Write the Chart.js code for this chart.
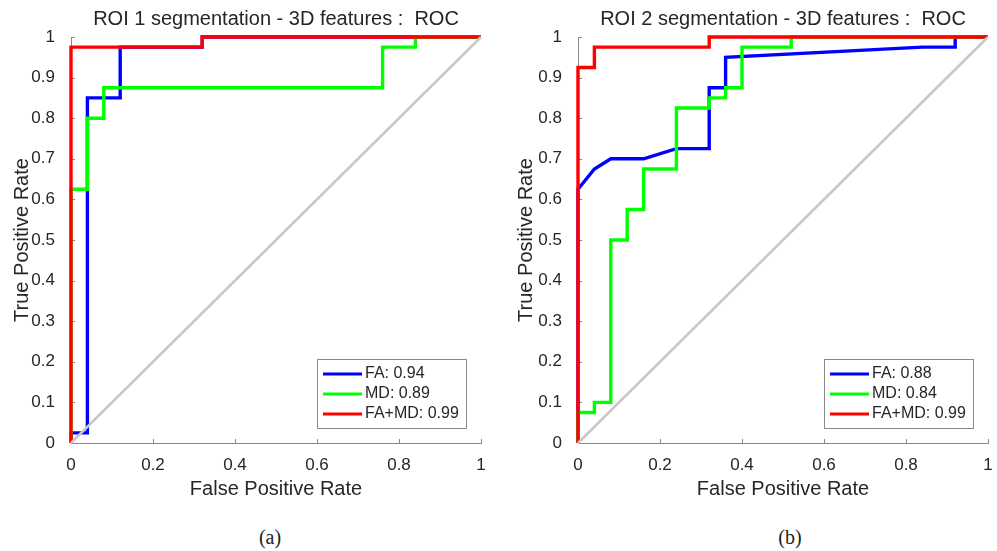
<!DOCTYPE html>
<html>
<head>
<meta charset="utf-8">
<script src="https://cdn.jsdelivr.net/npm/chart.js@4.4.1/dist/chart.umd.min.js"></script>
<style>
  body { margin: 0; background: #fff; }
  #page { position: relative; width: 997px; height: 551px; background: #fff; overflow: hidden; }
  canvas { position: absolute; top: 0; }
  #roc1 { left: 0; }
  #roc2 { left: 497px; }
  .cap { position: absolute; top: 526px; font-family: 'Liberation Serif', 'Times New Roman', serif; font-size: 20px; color: #222; transform: translateX(-50%); }
</style>
</head>
<body>
<div id="page">
  <canvas id="roc1" width="497" height="503"></canvas>
  <canvas id="roc2" width="500" height="503"></canvas>
  <div class="cap" style="left:270px">(a)</div>
  <div class="cap" style="left:790px">(b)</div>
</div>
<script>
const seriesNames = ['FA', 'MD', 'FA+MD'];
const seriesColors = ['#0000ff', '#00ff00', '#ff0000'];
const xTickLabels = ['0', '0.2', '0.4', '0.6', '0.8', '1'];
const yTickLabels = ['0', '0.1', '0.2', '0.3', '0.4', '0.5', '0.6', '0.7', '0.8', '0.9', '1'];
const chanceFpr = [0, 1];
const chanceTpr = [0, 1];

// ROI 1
const roi1Title = 'ROI 1 segmentation - 3D features :  ROC';
const roi1Auc = [0.94, 0.89, 0.99];
const roi1FaFpr = [0, 0, 0.04, 0.04, 0.12, 0.12, 0.32, 0.32, 1];
const roi1FaTpr = [0, 0.025, 0.025, 0.85, 0.85, 0.975, 0.975, 1, 1];
const roi1MdFpr = [0, 0, 0.04, 0.04, 0.08, 0.08, 0.76, 0.76, 0.84, 0.84, 1];
const roi1MdTpr = [0, 0.625, 0.625, 0.8, 0.8, 0.875, 0.875, 0.975, 0.975, 1, 1];
const roi1BothFpr = [0, 0, 0.32, 0.32, 1];
const roi1BothTpr = [0, 0.975, 0.975, 1, 1];

// ROI 2
const roi2Title = 'ROI 2 segmentation - 3D features :  ROC';
const roi2Auc = [0.88, 0.84, 0.99];
const roi2FaFpr = [0, 0, 0.04, 0.08, 0.16, 0.24, 0.32, 0.32, 0.36, 0.36, 0.84, 0.92, 0.92, 1];
const roi2FaTpr = [0, 0.625, 0.675, 0.7, 0.7, 0.725, 0.725, 0.875, 0.875, 0.95, 0.975, 0.975, 1, 1];
const roi2MdFpr = [0, 0, 0.04, 0.04, 0.08, 0.08, 0.12, 0.12, 0.16, 0.16, 0.24, 0.24, 0.32, 0.32, 0.36, 0.36, 0.40, 0.40, 0.52, 0.52, 1];
const roi2MdTpr = [0, 0.075, 0.075, 0.1, 0.1, 0.5, 0.5, 0.575, 0.575, 0.675, 0.675, 0.825, 0.825, 0.85, 0.85, 0.875, 0.875, 0.975, 0.975, 1, 1];
const roi2BothFpr = [0, 0, 0.04, 0.04, 0.32, 0.32, 1];
const roi2BothTpr = [0, 0.925, 0.925, 0.975, 0.975, 1, 1];

const axisColor = '#8a8a8a';
const textColor = '#262626';
Chart.defaults.font.family = '"Liberation Sans", Arial, Helvetica, sans-serif';

const toPoints = (xs, ys) => xs.map((x, i) => ({ x, y: ys[i] }));

// MATLAB style ticks pointing into the plot
const innerTicks = {
  id: 'innerTicks',
  beforeDatasetsDraw(chart) {
    const { ctx, chartArea: a, scales: { x, y } } = chart;
    ctx.save();
    ctx.strokeStyle = axisColor;
    ctx.lineWidth = 1;
    ctx.beginPath();
    x.ticks.forEach((t) => {
      const px = Math.round(x.getPixelForValue(t.value)) + 0.5;
      ctx.moveTo(px, a.bottom);
      ctx.lineTo(px, a.bottom - 4);
    });
    y.ticks.forEach((t) => {
      const py = Math.round(y.getPixelForValue(t.value)) + 0.5;
      ctx.moveTo(a.left, py);
      ctx.lineTo(a.left + 4, py);
    });
    ctx.stroke();
    ctx.restore();
  }
};

const boxLegend = {
  id: 'boxLegend',
  afterDraw(chart) {
    const { ctx, chartArea: a } = chart;
    const items = chart.data.datasets.filter((d) => d.label);
    const w = 149, h = 69;
    const left = Math.round(a.right - 15 - w), top = Math.round(a.bottom - 15 - h);
    ctx.save();
    ctx.fillStyle = '#fff';
    ctx.fillRect(left, top, w, h);
    ctx.strokeStyle = axisColor;
    ctx.lineWidth = 1;
    ctx.strokeRect(left + 0.5, top + 0.5, w, h);
    ctx.font = '16px "Liberation Sans", Arial, sans-serif';
    ctx.textBaseline = 'middle';
    items.forEach((d, i) => {
      const cy = top + 15 + i * 20;
      ctx.strokeStyle = d.borderColor;
      ctx.lineWidth = 3;
      ctx.beginPath();
      ctx.moveTo(left + 6, cy);
      ctx.lineTo(left + 45, cy);
      ctx.stroke();
      ctx.fillStyle = textColor;
      ctx.fillText(d.label, left + 48, cy);
    });
    ctx.restore();
  }
};

function rocChart(id, title, auc, curves, padLeft, padRight, yWidth) {
  const datasets = curves.map((c, i) => ({
    label: seriesNames[i] + ': ' + auc[i].toFixed(2),
    data: toPoints(c[0], c[1]),
    borderColor: seriesColors[i],
    borderWidth: 3.4,
    pointRadius: 0,
    tension: 0,
    fill: false,
    clip: 5,
    order: 3 - i
  }));
  datasets.push({
    label: '',
    data: toPoints(chanceFpr, chanceTpr),
    borderColor: '#c8c8c8',
    borderWidth: 2.5,
    pointRadius: 0,
    fill: false,
    clip: 5,
    order: 0
  });

  return new Chart(document.getElementById(id), {
    type: 'line',
    data: { datasets },
    plugins: [innerTicks, boxLegend],
    options: {
      responsive: false,
      animation: false,
      events: [],
      layout: { padding: { left: padLeft, right: padRight, top: 0, bottom: 0 } },
      plugins: {
        legend: { display: false },
        tooltip: { enabled: false },
        title: {
          display: true,
          text: title,
          fullSize: false,
          color: textColor,
          font: { size: 20, weight: 'normal' },
          padding: { top: 7, bottom: 6 }
        }
      },
      scales: {
        x: {
          type: 'linear',
          min: 0,
          max: 1,
          grid: { display: false },
          border: { color: axisColor },
          ticks: {
            stepSize: 0.2,
            padding: 4,
            color: textColor,
            font: { size: 17 },
            maxRotation: 0,
            autoSkip: false,
            callback: (v, i) => xTickLabels[i]
          },
          title: {
            display: true,
            text: 'False Positive Rate',
            color: textColor,
            font: { size: 20 },
            padding: { top: 0, bottom: 2 }
          },
          afterFit: (s) => { s.height = 60; }
        },
        y: {
          min: 0,
          max: 1,
          grid: { display: false },
          border: { color: axisColor },
          ticks: {
            stepSize: 0.1,
            padding: 8,
            color: textColor,
            font: { size: 17 },
            autoSkip: false,
            callback: (v, i) => yTickLabels[i]
          },
          title: {
            display: true,
            text: 'True Positive Rate',
            color: textColor,
            font: { size: 20 },
            padding: { top: 10, bottom: 0 }
          },
          afterFit: (s) => { s.width = yWidth; }
        }
      }
    }
  });
}

rocChart('roc1', roi1Title, roi1Auc, [
  [roi1FaFpr, roi1FaTpr],
  [roi1MdFpr, roi1MdTpr],
  [roi1BothFpr, roi1BothTpr]
], 0, 16, 71);

rocChart('roc2', roi2Title, roi2Auc, [
  [roi2FaFpr, roi2FaTpr],
  [roi2MdFpr, roi2MdTpr],
  [roi2BothFpr, roi2BothTpr]
], 7.6, 9, 73.4);
</script>
</body>
</html>
